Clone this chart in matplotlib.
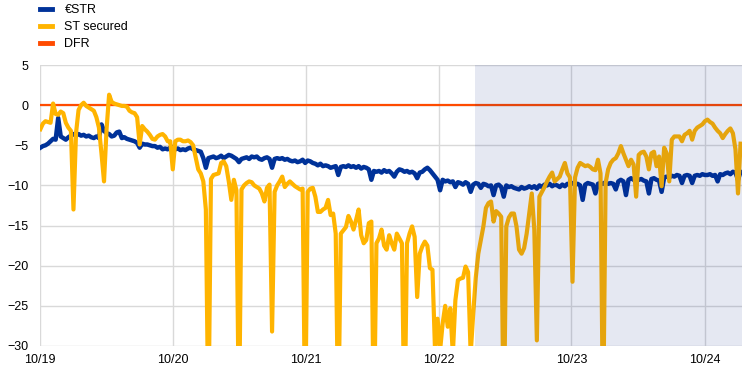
import numpy as np
import pandas as pd
import matplotlib.pyplot as plt

# weekly observations, spreads to the DFR in basis points
dates = pd.date_range('2019-10-02', periods=276, freq='7D')

estr = [
    -5.3, -5.1, -5.0, -4.8, -4.5, -4.2, -4.3, -1.6, -3.9, -4.1,
    -4.3, -4.0, -3.8, -3.6, -3.8, -3.6, -3.8, -3.7, -3.9, -3.8,
    -4.0, -4.1, -3.9, -4.1, -2.4, -3.2, -3.5, -3.6, -3.9, -3.8,
    -3.4, -3.3, -4.1, -4.0, -4.2, -4.3, -4.4, -4.5, -4.7, -5.3,
    -4.8, -4.9, -4.9, -5.0, -5.1, -5.1, -5.3, -5.2, -5.5, -5.4,
    -5.5, -5.3, -5.2, -5.5, -5.4, -5.6, -5.5, -5.6, -5.4, -5.3,
    -5.5, -5.6, -5.7, -5.8, -6.6, -7.8, -6.6, -6.5, -6.4, -6.6,
    -6.5, -6.3, -6.6, -6.4, -6.2, -6.3, -6.5, -6.7, -7.1, -6.7,
    -6.6, -6.5, -6.7, -6.4, -6.5, -6.4, -6.7, -6.8, -6.6, -6.5,
    -6.7, -7.8, -6.7, -6.6, -6.7, -6.6, -6.8, -6.7, -6.9, -7.0,
    -6.9, -7.1, -7.0, -6.8, -7.2, -6.9, -7.0, -7.2, -7.3, -7.5,
    -7.3, -7.6, -7.5, -7.6, -7.8, -7.7, -7.6, -8.7, -7.7, -7.6,
    -7.7, -7.5, -7.7, -7.6, -7.8, -7.6, -7.9, -7.7, -7.8, -8.0,
    -9.3, -8.2, -8.3, -8.2, -8.4, -8.1, -8.3, -8.2, -8.5, -8.9,
    -8.3, -8.0, -8.1, -8.3, -8.2, -8.4, -8.3, -8.5, -9.1, -8.4,
    -8.3, -8.0, -7.8, -8.1, -8.5, -8.9, -9.3, -10.6, -9.3, -9.5,
    -9.4, -9.6, -9.5, -10.2, -9.6, -9.7, -9.9, -9.6, -9.8, -10.8,
    -9.9, -9.7, -9.8, -10.3, -9.8, -9.9, -10.1, -10.0, -11.2, -10.0,
    -9.9, -10.2, -11.4, -10.0, -10.2, -10.1, -10.3, -10.4, -10.5, -10.2,
    -10.4, -10.3, -10.1, -10.3, -10.1, -10.4, -10.0, -10.2, -9.9, -10.0,
    -9.8, -10.1, -9.9, -10.0, -10.2, -9.9, -10.1, -9.8, -9.9, -9.7,
    -9.9, -9.8, -10.0, -11.8, -9.9, -9.7, -9.8, -9.9, -11.0, -9.8,
    -9.7, -9.8, -9.6, -9.8, -9.7, -9.8, -10.5, -9.5, -9.3, -9.5,
    -11.2, -9.3, -9.1, -9.3, -9.4, -9.3, -9.2, -9.4, -9.5, -11.0,
    -9.2, -9.1, -9.3, -9.4, -10.8, -9.0, -8.9, -9.0, -8.8, -8.9,
    -8.7, -8.8, -9.7, -8.8, -8.7, -8.8, -9.7, -8.8, -8.7, -8.8,
    -8.6, -8.7, -8.7, -8.6, -8.8, -8.7, -9.5, -8.6, -8.7, -8.5,
    -8.4, -8.6, -8.3, -8.4, -9.3, -8.3,
]

st_secured = [
    -3.0, -2.3, -2.0, -2.1, -2.2, 0.2, -1.1, -1.2, -0.8, -1.0,
    -2.2, -2.8, -3.2, -13.0, -3.5, -0.6, 0.0, 0.3, -0.1, -0.3,
    -0.5, -0.7, -1.5, -2.8, -6.0, -9.5, -3.0, 1.3, 0.4, 0.2,
    0.1, 0.0, -0.1, -0.1, -0.2, -0.7, -0.9, -1.0, -1.5, -4.9,
    -2.6, -3.0, -3.3, -3.7, -4.2, -4.3, -3.9, -3.7, -3.6, -3.9,
    -4.5, -4.5, -8.0, -4.5, -4.3, -4.3, -4.5, -4.5, -4.4, -4.6,
    -5.0, -6.5, -8.0, -8.5, -9.5, -13.0, -40.0, -9.2, -8.7, -8.6,
    -8.5, -7.2, -7.0, -7.6, -9.5, -11.8, -9.3, -10.6, -40.0, -10.5,
    -10.0, -9.7, -9.5, -9.6, -10.0, -10.2, -10.4, -11.0, -12.0, -10.3,
    -9.9, -28.2, -10.8, -10.0, -9.5, -8.9, -10.2, -9.8, -9.5, -9.8,
    -10.1, -10.3, -10.5, -10.4, -40.0, -10.8, -10.4, -10.3, -11.4, -13.3,
    -13.3, -13.0, -12.8, -11.8, -13.7, -13.5, -16.0, -40.0, -16.0, -15.6,
    -15.2, -13.8, -14.5, -15.5, -14.3, -13.0, -16.2, -17.2, -16.8, -14.7,
    -14.5, -40.0, -17.2, -16.6, -15.5, -17.5, -18.0, -16.2, -17.2, -18.0,
    -16.0, -16.6, -17.2, -40.0, -17.2, -16.0, -15.1, -16.4, -23.9, -18.5,
    -17.6, -17.0, -17.5, -20.3, -20.5, -30.5, -26.6, -30.5, -27.2, -25.0,
    -27.6, -25.3, -31.0, -24.3, -21.8, -21.6, -21.5, -20.1, -20.8, -31.0,
    -26.0, -21.5, -18.5, -16.8, -15.1, -12.8, -12.2, -12.0, -14.5, -13.2,
    -13.5, -13.9, -40.0, -15.1, -14.0, -13.5, -13.5, -15.1, -18.0, -18.5,
    -17.8, -16.0, -13.5, -11.0, -15.5, -29.3, -11.4, -10.8, -10.2, -9.5,
    -8.9, -8.4, -9.5, -9.2, -8.9, -8.0, -7.2, -8.5, -9.0, -22.0,
    -9.0, -7.8, -7.2, -7.4, -7.6, -7.5, -7.7, -8.0, -8.1, -6.8,
    -8.5, -40.0, -9.7, -8.0, -7.2, -6.8, -6.6, -6.0, -5.1, -6.0,
    -6.8, -7.6, -6.8, -7.4, -11.4, -6.2, -5.9, -5.8, -6.4, -8.0,
    -6.0, -5.8, -7.6, -6.4, -10.1, -5.3, -6.0, -9.5, -4.3, -3.9,
    -3.9, -3.9, -4.5, -3.7, -3.5, -3.2, -4.3, -3.2, -2.8, -2.6,
    -2.4, -2.0, -1.8, -2.1, -2.3, -2.8, -3.2, -3.5, -4.1, -3.6,
    -3.2, -2.9, -3.5, -5.5, -11.0, -4.8,
]

dfr_spread = 0.0
shade_start = pd.Timestamp('2023-01-09')
x_start, x_end = pd.Timestamp('2019-10-01'), pd.Timestamp('2025-01-12')
xtick_dates = pd.date_range('2019-10-01', '2024-10-01', freq='12MS')
xtick_labels = ['10/19', '10/20', '10/21', '10/22', '10/23', '10/24']

plt.rcParams['font.family'] = ['Liberation Sans', 'DejaVu Sans']
plt.rcParams['font.size'] = 9

fig = plt.figure(figsize=(7.44, 3.73), dpi=100)
ax = fig.add_axes([40 / 744, 1 - 346 / 373, 702 / 744, 281 / 373])

red = ax.axhline(dfr_spread, color='#ff4b00', lw=1.6, zorder=2, label='DFR')
blue, = ax.plot(dates, estr, color='#003299', lw=3.2, zorder=3, label='€STR')
orange, = ax.plot(dates, st_secured, color='#ffb400', lw=3.0, zorder=4, label='ST secured')
ax.axvspan(shade_start, x_end, color='#001e82', alpha=0.1, lw=0, zorder=5)

ax.set_xlim(x_start, x_end)
ax.set_ylim(-30, 5)
ax.set_yticks(np.arange(-30, 6, 5))
ax.set_xticks(xtick_dates)
ax.set_xticklabels(xtick_labels)
ax.grid(True, color='#d9d9d9', lw=1)
ax.set_axisbelow(True)
for s in ax.spines.values():
    s.set_visible(False)
ax.tick_params(length=0, labelsize=9, colors='#000000')
ax.tick_params(axis='y', pad=8)
ax.tick_params(axis='x', pad=6)

leg = fig.legend(handles=[blue, orange, red], loc='upper left',
                 bbox_to_anchor=(40 / 744, 1 - 4 / 373), frameon=False,
                 handlelength=0.95, handletextpad=1.0, labelspacing=0.4,
                 borderpad=0, borderaxespad=0, fontsize=9)
for h in leg.legend_handles:
    h.set_linewidth(3.5)

fig.savefig('out.png', dpi=100)
